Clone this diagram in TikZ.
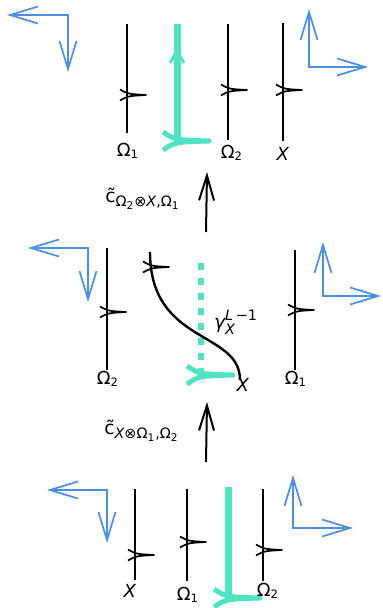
\documentclass[tikz,border=0pt]{standalone}
\usepackage{amsmath}
\usepackage{fontspec}
\setmainfont{DejaVu Sans}
\usetikzlibrary{arrows.meta}
\DeclareMathSizes{9}{9}{5.8}{4.6}
\DeclareMathSizes{9.3}{9.3}{7.2}{5.3}
\definecolor{tealstrand}{HTML}{50E3C2}
\definecolor{frameblue}{HTML}{4A90E2}
\pgfdeclarelayer{edgelayer}
\pgfdeclarelayer{nodelayer}
\pgfsetlayers{edgelayer,nodelayer,main}
\tikzstyle{strand}=[draw=black, line width=1.3pt]
\tikzstyle{tealedge}=[draw=tealstrand, line width=3.5pt]
\tikzstyle{tealdots}=[draw=tealstrand, line width=3.3pt, dash pattern=on 3.35pt off 4.15pt]
\tikzstyle{frame}=[draw=frameblue, line width=0.85pt, {Straight Barb[length=14pt,width=8.5pt]}-{Straight Barb[length=14pt,width=8.5pt]}]
\tikzstyle{morph}=[draw=black, line width=1pt, -{Straight Barb[length=12.5pt,width=7.5pt]}]
\tikzstyle{strandname}=[inner sep=0pt, font=\fontsize{9}{11}\selectfont]
\tikzstyle{morphname}=[inner sep=0pt, font=\fontsize{9.3}{11}\selectfont]
\tikzset{
  strandtick/.pic={\draw[line width=0.85pt, line join=round] (-7,-5.5) .. controls (1,-1) .. (19,0) .. controls (1,1) .. (-7,5.5);},
  tealtip/.pic={\draw[draw=tealstrand, line width=2.5pt, line join=round] (-14,-9) .. controls (-2,-1) .. (32,0) .. controls (-2,1) .. (-14,9);},
  tealup/.pic={\draw[draw=tealstrand, line width=1.4pt, line join=round] (-7,14) .. controls (-2,5) .. (0,0) .. controls (2,5) .. (7,14);}
}

\begin{document}
\begin{tikzpicture}[x=0.5pt, y=-0.5pt]
	\useasboundingbox (0,0) rectangle (382,608);
	\begin{pgfonlayer}{nodelayer}
		% top
		\node [style=strandname] (1) at (128,151) {Ω$_{\text{1}}$};
		\node [style=strandname] (2) at (232,153) {Ω$_{\text{2}}$};
		\node [style=strandname] (3) at (283,154) {\textit{X}};
		\node [style=morphname] (4) at (143,199) {$\text{\~c}_{\text{Ω}_{\text{2}}\text{⊗}\textit{X}\text{,Ω}_{\text{1}}}$};
		% middle
		\node [style=strandname] (5) at (108,379) {Ω$_{\text{2}}$};
		\node [style=strandname] (6) at (243,385) {\textit{X}};
		\node [style=strandname] (7) at (296,379) {Ω$_{\text{1}}$};
		\node [style=morphname] (8) at (236,322) {$\textit{γ}^{\textit{L}\,\text{−1}}_{\textit{X}}$};
		\node [style=morphname] (9) at (142,431) {$\text{\~c}_{\textit{X}\text{⊗Ω}_{\text{1}}\text{,Ω}_{\text{2}}}$};
		% bottom
		\node [style=strandname] (10) at (130,591) {\textit{X}};
		\node [style=strandname] (11) at (188,595) {Ω$_{\text{1}}$};
		\node [style=strandname] (12) at (268,591) {Ω$_{\text{2}}$};
	\end{pgfonlayer}
	\begin{pgfonlayer}{edgelayer}
		% top
		\coordinate (a1) at (7,15);
		\coordinate (a2) at (68,15);
		\coordinate (a3) at (68,72);
		\coordinate (a4) at (309,9);
		\coordinate (a5) at (309,67);
		\coordinate (a6) at (368,67);
		\coordinate (s1) at (127,24);
		\coordinate (s2) at (127,133);
		\coordinate (s3) at (177,24);
		\coordinate (s4) at (177,141);
		\coordinate (s5) at (228,24);
		\coordinate (s6) at (228,140);
		\coordinate (s7) at (283,23);
		\coordinate (s8) at (283,141);
		\draw [style=frame] (a1) -- (a2) -- (a3);
		\draw [style=frame] (a4) -- (a5) -- (a6);
		\draw [style=strand] (s1) to (s2);
		\draw [style=tealedge] (s3) to (s4);
		\draw [style=strand] (s5) to (s6);
		\draw [style=strand] (s7) to (s8);
		\path (127,95) pic {strandtick};
		\path (177,49) pic {tealup};
		\path (s4) pic {tealtip};
		\path (228,90) pic {strandtick};
		\path (283,90) pic {strandtick};
		% middle
		\coordinate (m1) at (206,232);
		\coordinate (m2) at (207,172);
		\draw [style=morph] (m1) to (m2);
		\coordinate (b1) at (28,248);
		\coordinate (b2) at (88,248);
		\coordinate (b3) at (88,302);
		\coordinate (b4) at (323,242);
		\coordinate (b5) at (323,296);
		\coordinate (b6) at (381,296);
		\coordinate (t1) at (107,248);
		\coordinate (t2) at (107,370);
		\coordinate (t3) at (150,252);
		\coordinate (t4) at (240,380);
		\coordinate (t5) at (201,263);
		\coordinate (t6) at (201,372);
		\coordinate (t7) at (295,250);
		\coordinate (t8) at (295,370);
		\draw [style=frame] (b1) -- (b2) -- (b3);
		\draw [style=frame] (b4) -- (b5) -- (b6);
		\draw [style=strand] (t1) to (t2);
		\draw [style=tealdots] (t5) to (t6);
		\path (201,375) pic {tealtip};
		\draw [draw=black, line width=1.2pt] (t3) .. controls (150,345) and (240,330) .. (t4);
		\draw [style=strand] (t7) to (t8);
		\path (107,312) pic {strandtick};
		\path (150,267) pic {strandtick};
		\path (295,310) pic {strandtick};
		% bottom
		\coordinate (m3) at (206,462);
		\coordinate (m4) at (207,402);
		\draw [style=morph] (m3) to (m4);
		\coordinate (c1) at (47,490);
		\coordinate (c2) at (107,490);
		\coordinate (c3) at (107,543);
		\coordinate (c4) at (293,475);
		\coordinate (c5) at (293,528);
		\coordinate (c6) at (353,528);
		\coordinate (u1) at (135,489);
		\coordinate (u2) at (135,580);
		\coordinate (u3) at (187,489);
		\coordinate (u4) at (187,581);
		\coordinate (u5) at (228,487);
		\coordinate (u6) at (228,598);
		\coordinate (u7) at (263,489);
		\coordinate (u8) at (263,581);
		\draw [style=frame] (c1) -- (c2) -- (c3);
		\draw [style=frame] (c4) -- (c5) -- (c6);
		\draw [style=strand] (u1) to (u2);
		\draw [style=strand] (u3) to (u4);
		\draw [style=tealedge] (u5) to (u6);
		\draw [style=strand] (u7) to (u8);
		\path (135,555) pic {strandtick};
		\path (187,542) pic {strandtick};
		\path (u6) pic {tealtip};
		\path (263,550) pic {strandtick};
	\end{pgfonlayer}
\end{tikzpicture}
\end{document}
